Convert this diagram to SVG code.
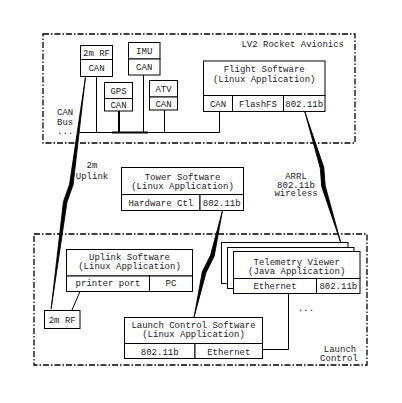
<svg xmlns="http://www.w3.org/2000/svg" width="402" height="403" viewBox="0 0 402 403">
<style>
.bx{fill:#fff;stroke:#000;stroke-width:1}
.ln{fill:none;stroke:#000;stroke-width:1}
.grp{fill:none;stroke:#000;stroke-width:1.3;stroke-dasharray:6 2 1.5 2}
.bolt{fill:#000;stroke:#000;stroke-width:0.8;stroke-linejoin:miter}
text{font-family:"Liberation Mono","DejaVu Sans Mono",monospace;font-size:9px;fill:#222}
.c{text-anchor:middle}
.r{text-anchor:end}
</style>
<rect width="402" height="403" fill="#fff"/>

<g id="avionics-group">
<rect class="grp" x="43" y="34" width="312" height="109"/>
<text class="r" x="344" y="47">LV2 Rocket Avionics</text>
</g>
<g id="launch-group">
<rect class="grp" x="34" y="234" width="333" height="131"/>
<text class="c" x="340" y="352">Launch</text>
<text class="c" x="339" y="361">Control</text>
</g>

<g id="connectors">
<path class="ln" d="M96.5 76.5V132.5M143.5 75V132.5M164.5 110V132.5M219.5 111.5V132.5M78 132.5H219.5"/>
<path class="ln" style="stroke-width:2" d="M119 111V132.5M112 132.5H148"/>
<path class="ln" d="M80 291.5L72 310"/>
<path class="ln" d="M288.5 293.5V349.5H262.5"/>
<polygon class="bolt" transform="translate(85 77.5) rotate(98.23)" points="0,-0.4 107.95,-3.6 125.95,0 233.9,0.4 125.95,3.6 107.95,0"/>
<polygon class="bolt" transform="translate(304.5 112) rotate(74.32)" points="0,-0.4 58.5,-3.6 76.5,0 135,0.4 76.5,3.6 58.5,0"/>
<polygon class="bolt" transform="translate(222 211) rotate(104.54)" points="0,-0.4 45.75,-3.8 63.75,0 109.5,0.4 63.75,3.8 45.75,0"/>
<text x="57" y="115">CAN</text>
<text x="57" y="125">Bus</text>
<text x="57" y="134">...</text>
<text class="c" x="92" y="168">2m</text>
<text class="c" x="92" y="179">Uplink</text>
<text class="c" x="296" y="179">ARRL</text>
<text class="c" x="296" y="187.5">802.11b</text>
<text class="c" x="296" y="196">wireless</text>
<text class="c" x="306" y="311">...</text>
</g>

<g id="rf2m-top">
<rect class="bx" x="80.5" y="45.5" width="32" height="14"/>
<rect class="bx" x="80.5" y="59.5" width="32" height="17"/>
<text class="c" x="96.5" y="56">2m RF</text>
<text class="c" x="96.5" y="71">CAN</text>
</g>
<g id="imu">
<rect class="bx" x="128.5" y="42.5" width="31.5" height="16.5"/>
<rect class="bx" x="128.5" y="59" width="31.5" height="16"/>
<text class="c" x="144.2" y="54">IMU</text>
<text class="c" x="144.2" y="70">CAN</text>
</g>
<g id="gps">
<rect class="bx" x="104.5" y="82.5" width="28" height="16"/>
<rect class="bx" x="104.5" y="98.5" width="28" height="12.5"/>
<text class="c" x="118.5" y="94">GPS</text>
<text class="c" x="118.5" y="108">CAN</text>
</g>
<g id="atv">
<rect class="bx" x="149.5" y="80.5" width="28" height="16.5"/>
<rect class="bx" x="149.5" y="97" width="28" height="13"/>
<text class="c" x="163.5" y="92">ATV</text>
<text class="c" x="163.5" y="107">CAN</text>
</g>
<g id="flight-software">
<rect class="bx" x="203.5" y="61" width="121.5" height="34.5"/>
<rect class="bx" x="203.5" y="95.5" width="29" height="16"/>
<rect class="bx" x="232.5" y="95.5" width="51" height="16"/>
<rect class="bx" x="283.5" y="95.5" width="41.5" height="16"/>
<text class="c" x="264.2" y="72">Flight Software</text>
<text class="c" x="264.2" y="81.5">(Linux Application)</text>
<text class="c" x="218" y="106.5">CAN</text>
<text class="c" x="258" y="106.5">FlashFS</text>
<text class="c" x="304.2" y="106.5">802.11b</text>
</g>
<g id="tower-software">
<rect class="bx" x="121.5" y="167.5" width="122" height="27"/>
<rect class="bx" x="121.5" y="194.5" width="78.5" height="16"/>
<rect class="bx" x="200" y="194.5" width="43.5" height="16"/>
<text class="c" x="182.5" y="179.5">Tower Software</text>
<text class="c" x="182.5" y="188.5">(Linux Application)</text>
<text class="c" x="160.8" y="205.5">Hardware Ctl</text>
<text class="c" x="221.7" y="205.5">802.11b</text>
</g>
<g id="uplink-software">
<rect class="bx" x="66.5" y="249.5" width="126" height="26.5"/>
<rect class="bx" x="66.5" y="276" width="83" height="15.5"/>
<rect class="bx" x="149.5" y="276" width="43" height="15.5"/>
<text class="c" x="129.5" y="259.5">Uplink Software</text>
<text class="c" x="129.5" y="268.5">(Linux Application)</text>
<text class="c" x="108" y="285.5">printer port</text>
<text class="c" x="171" y="285.5">PC</text>
</g>
<g id="rf2m-bottom">
<rect class="bx" x="44.5" y="310.5" width="35.5" height="18"/>
<text class="c" x="62.2" y="322.5">2m RF</text>
</g>
<g id="launch-control-software">
<rect class="bx" x="124.5" y="317.5" width="138" height="26"/>
<rect class="bx" x="124.5" y="343.5" width="70.5" height="15"/>
<rect class="bx" x="195" y="343.5" width="67.5" height="15"/>
<text class="c" x="193.5" y="328">Launch Control Software</text>
<text class="c" x="193.5" y="337">(Linux Application)</text>
<text class="c" x="159.7" y="354.5">802.11b</text>
<text class="c" x="228.8" y="354.5">Ethernet</text>
</g>
<g id="telemetry-viewer">
<rect class="bx" x="221.5" y="242.5" width="126.5" height="41"/>
<rect class="bx" x="227.5" y="247.5" width="126.5" height="41"/>
<rect class="bx" x="233.5" y="251.5" width="126.5" height="27"/>
<rect class="bx" x="233.5" y="278.5" width="83" height="15"/>
<rect class="bx" x="316.5" y="278.5" width="43.5" height="15"/>
<text class="c" x="296.7" y="264.5">Telemetry Viewer</text>
<text class="c" x="296.7" y="274">(Java Application)</text>
<text class="c" x="275" y="289">Ethernet</text>
<text class="c" x="338.3" y="289">802.11b</text>
</g>
</svg>
